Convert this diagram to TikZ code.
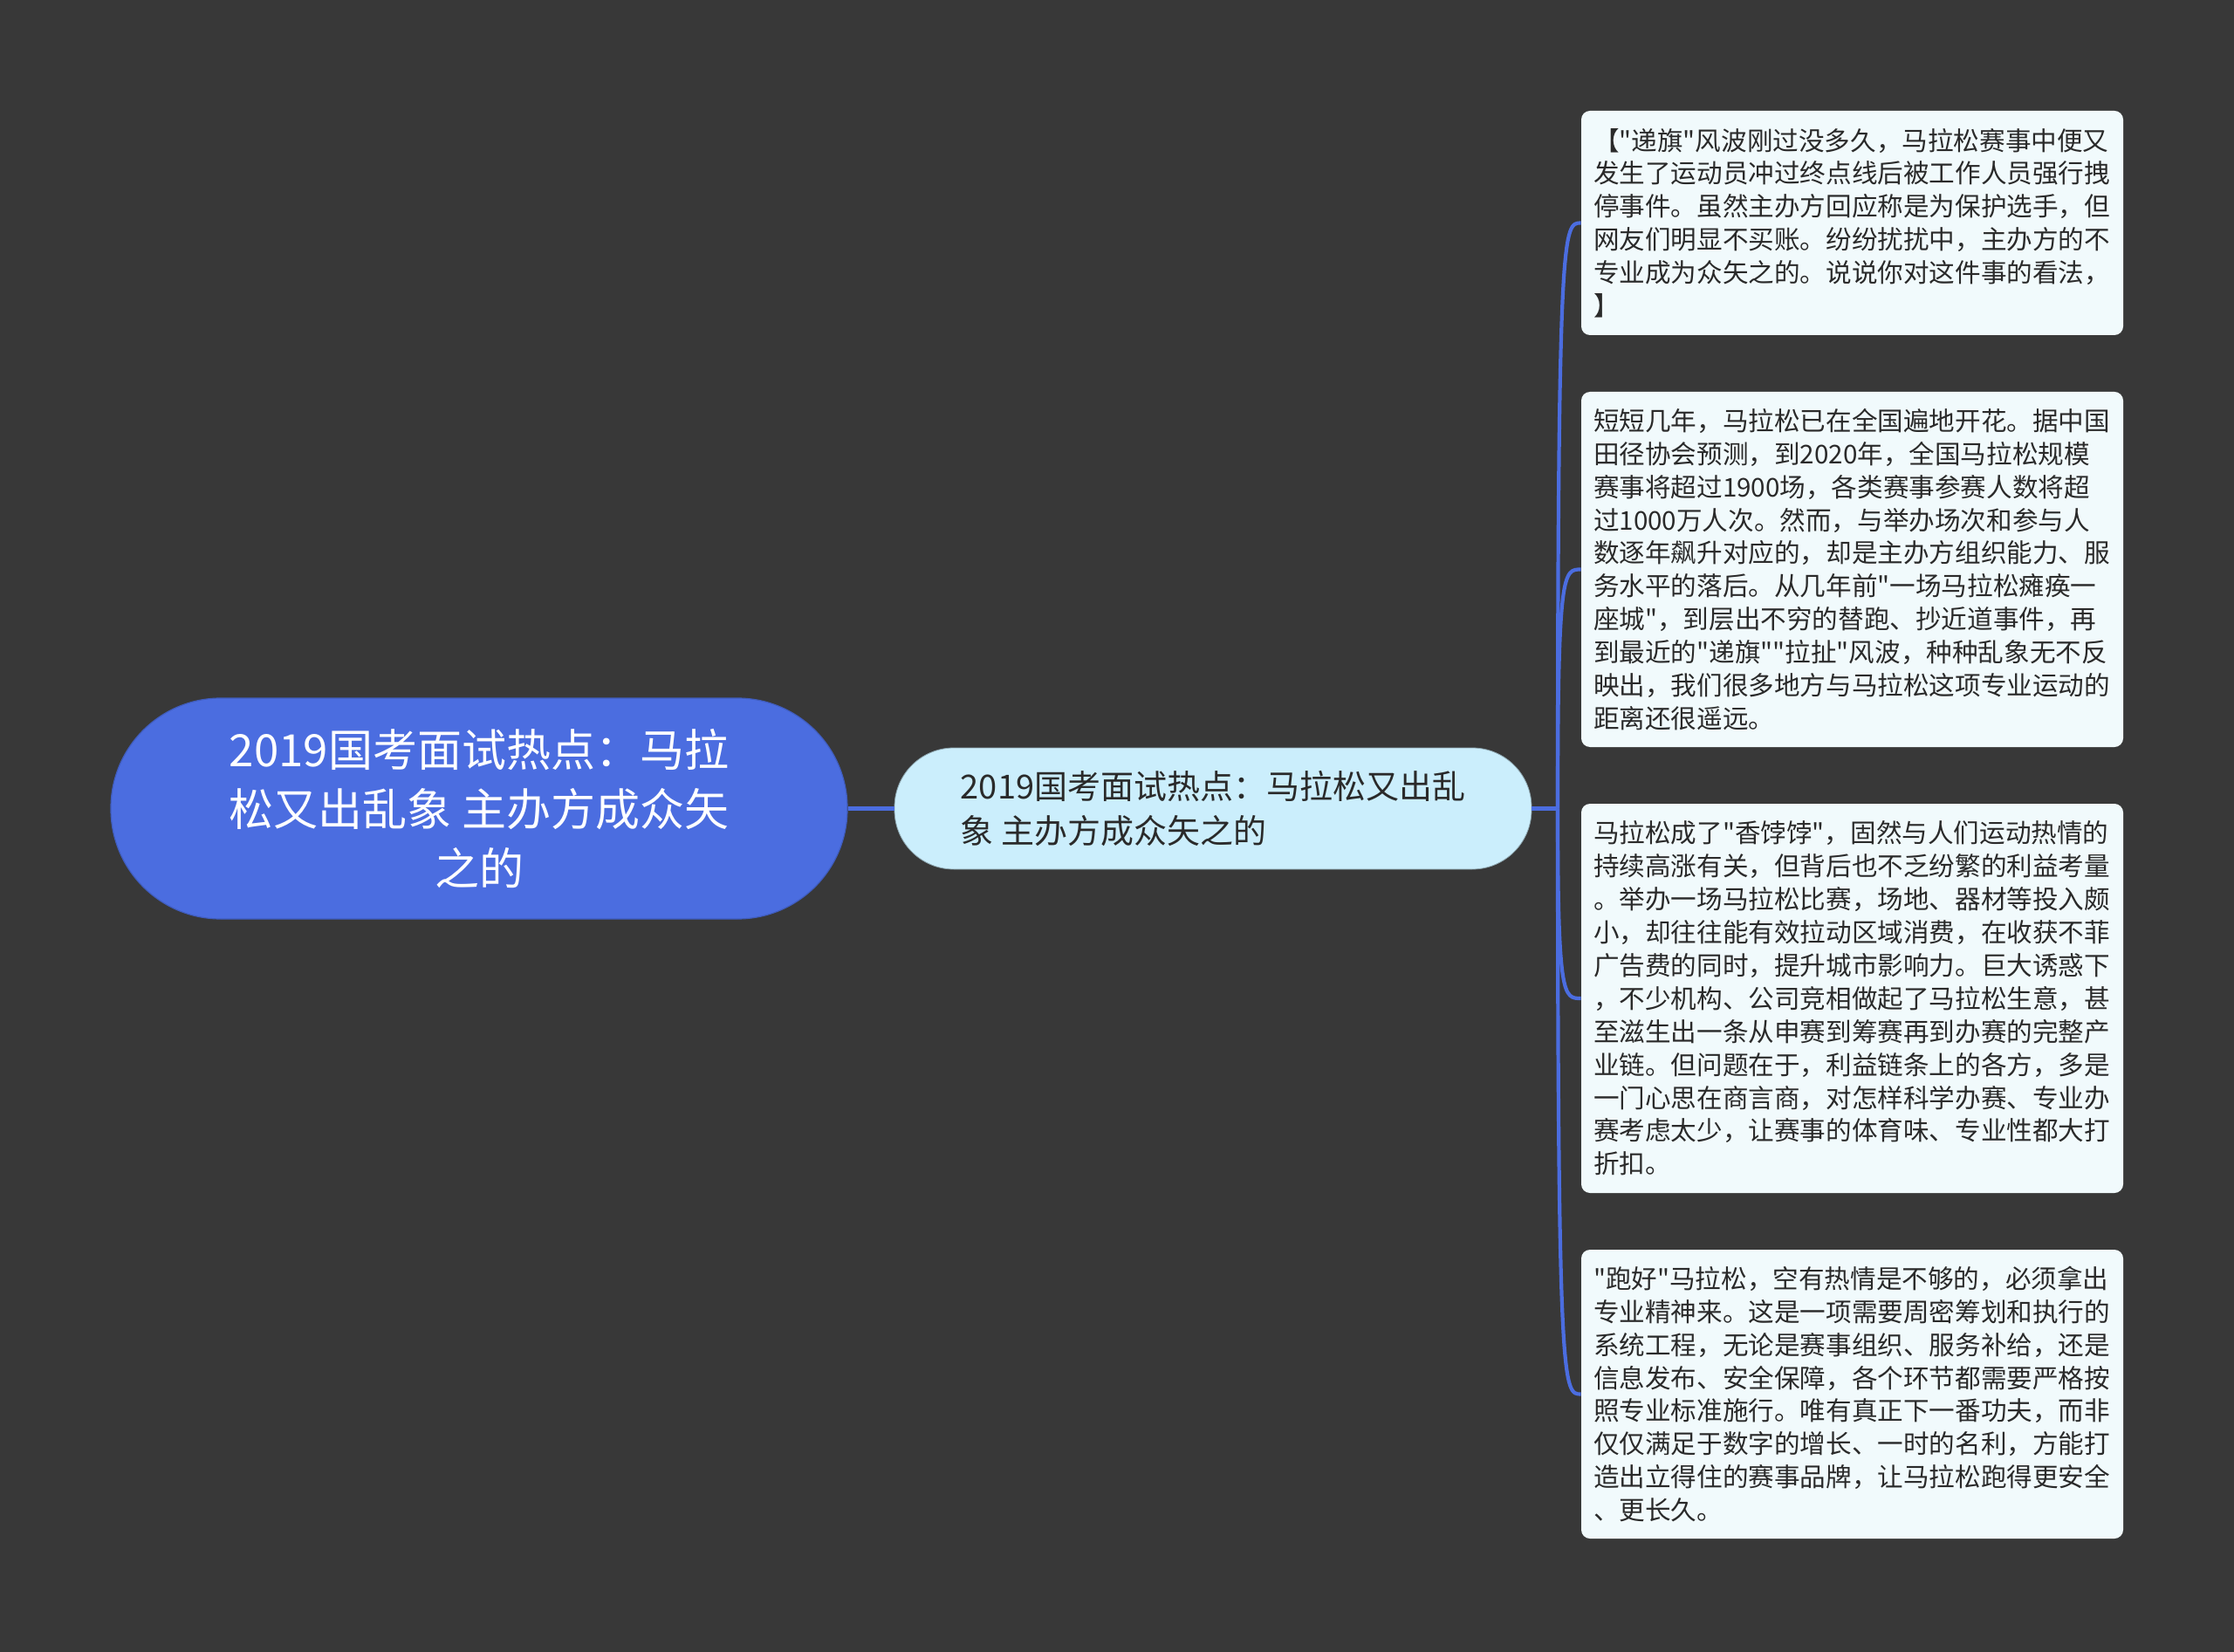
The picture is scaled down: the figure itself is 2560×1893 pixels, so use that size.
\documentclass[tikz,border=0pt]{standalone}
\usepackage{fontspec}
\setmainfont{Noto Sans CJK SC}[Ligatures=TeXOff]
\usetikzlibrary{calc}
\definecolor{bgc}{HTML}{383838}
\definecolor{rootc}{HTML}{4B6DE0}
\definecolor{childc}{HTML}{CBEEFC}
\definecolor{leafc}{HTML}{F1FAFC}
\definecolor{linec}{HTML}{4B6DE0}
\definecolor{txtc}{HTML}{2A2A2A}
\begin{document}
\begin{tikzpicture}[x=0.5pt,y=-0.5pt,
  rootbox/.style={fill=rootc, draw=rootc!85!black, line width=0.6pt, rounded corners=63pt,
    minimum width=422pt, minimum height=126.5pt, align=center, text=white,
    font=\fontsize{25.5pt}{34.2pt}\selectfont, inner sep=0pt},
  childbox/.style={fill=childc, draw=childc!70!black, line width=0.4pt, rounded corners=34pt,
    minimum width=365pt, minimum height=69.5pt, align=left, text=txtc,
    font=\fontsize{19pt}{25.3pt}\selectfont, inner sep=0pt},
  leafbox/.style={fill=leafc, rounded corners=5pt, minimum width=310.5pt,
    text width=296.5pt, inner xsep=7pt, inner ysep=0pt, align=left, text=txtc,
    font=\fontsize{14.8pt}{18.95pt}\selectfont},
  conn/.style={draw=linec, line width=2.1pt},
]
\fill[bgc] (0,0) rectangle (2560,1893);
\useasboundingbox (0,0) rectangle (2560,1893);

\node[rootbox] (root) at (549,926.5) {2019国考面试热点：马拉\\松又出乱象 主办方成众矢\\之的};
\node[childbox] (child) at (1390,926.5) {2019国考面试热点：马拉松又出乱\\象 主办方成众矢之的};

\node[leafbox, minimum height=128.5pt] (l1) at (2122.5,255.5) {【"递旗"风波刚过没多久，马拉松赛事中便又\\
发生了运动员冲过终点线后被工作人员强行拽\\
停事件。虽然主办方回应称是为保护选手，但\\
网友们明显不买账。纷纷扰扰中，主办方的不\\
专业成为众矢之的。说说你对这件事的看法，\\
】};

\node[leafbox, minimum height=203.5pt] (l2) at (2122.5,652.5) {短短几年，马拉松已在全国遍地开花。据中国\\
田径协会预测，到2020年，全国马拉松规模\\
赛事将超过1900场，各类赛事参赛人数将超\\
过1000万人次。然而，与举办场次和参与人\\
数逐年飙升对应的，却是主办方组织能力、服\\
务水平的落后。从几年前"一场马拉松瘫痪一\\
座城"，到层出不穷的替跑、抄近道事件，再\\
到最近的"递旗""拉扯"风波，种种乱象无不反\\
映出，我们很多地方与马拉松这项专业运动的\\
距离还很遥远。};

\node[leafbox, minimum height=223pt] (l3) at (2122.5,1144) {马拉松成了"香饽饽"，固然与人们运动热情的\\
持续高涨有关，但背后也不乏纷繁的利益考量\\
。举办一场马拉松比赛，场地、器材等投入颇\\
小，却往往能有效拉动区域消费，在收获不菲\\
广告费的同时，提升城市影响力。巨大诱惑下\\
，不少机构、公司竞相做起了马拉松生意，甚\\
至滋生出一条从申赛到筹赛再到办赛的完整产\\
业链。但问题在于，利益链条上的各方，多是\\
一门心思在商言商，对怎样科学办赛、专业办\\
赛考虑太少，让赛事的体育味、专业性都大打\\
折扣。};

\node[leafbox, minimum height=165.5pt] (l4) at (2122.5,1597.5) {"跑好"马拉松，空有热情是不够的，必须拿出\\
专业精神来。这是一项需要周密筹划和执行的\\
系统工程，无论是赛事组织、服务补给，还是\\
信息发布、安全保障，各个环节都需要严格按\\
照专业标准施行。唯有真正下一番功夫，而非\\
仅仅满足于数字的增长、一时的名利，方能打\\
造出立得住的赛事品牌，让马拉松跑得更安全\\
、更长久。};

\coordinate (sp) at (1785,926.5);
\draw[conn, line width=2.4pt] (root.east) -- (child.west);
\draw[conn, line width=2.4pt] (child.east) -- (sp);
\foreach \l in {l1,l2,l3,l4}{
  \draw[conn] (sp) .. controls (sp |- \l.west) and ([xshift=-10pt]\l.west) .. (\l.west);
}
\end{tikzpicture}
\end{document}
